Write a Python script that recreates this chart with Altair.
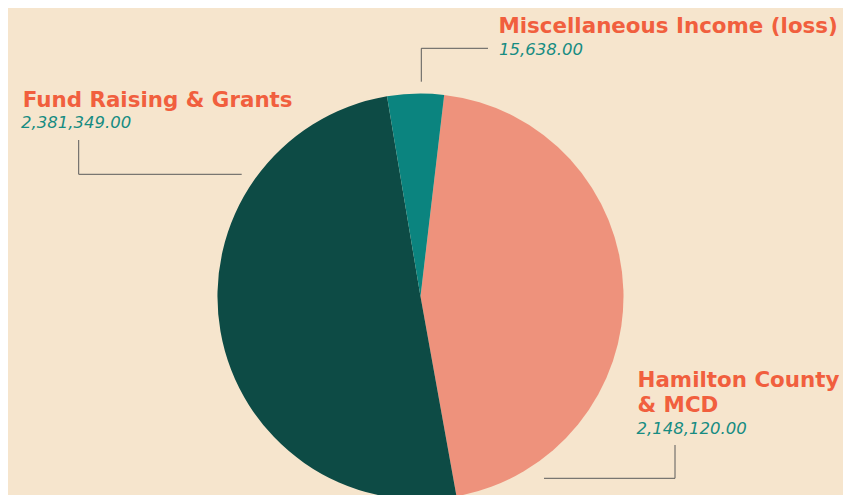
import altair as alt
import pandas as pd

# ---- data ----
categories = ["Hamilton County & MCD", "Fund Raising & Grants", "Miscellaneous Income (loss)"]
reported_values = [2148120.00, 2381349.00, 15638.00]
# slice shares as drawn in the picture (percent of the circle)
slice_share = [45.3, 50.2, 4.5]
slice_colors = ["#EE927C", "#0D4B45", "#0B847F"]

label_lines = ["Hamilton County\n& MCD", "Fund Raising & Grants", "Miscellaneous Income (loss)"]
value_labels = ["2,148,120.00", "2,381,349.00", "15,638.00"]

# ---- layout (chart pixel space) ----
W, H = 835, 487
CX, CY, R = 412.5, 288.5, 203
START = 0.117  # radians, clockwise from 12 o'clock

title_x = [629.5, 14.7, 490.5]
title_y = [378.7, 98.7, 25.3]
value_x = [628.5, 13, 491]
value_y = [426, 120.3, 47]

# leader lines: segments (x, y) -> (x2, y2)
seg_x = [536, 667, 70.7, 70.7, 413.3, 413.3]
seg_y = [470.3, 470.3, 132, 166.3, 73.7, 40.3]
seg_x2 = [667, 667, 70.7, 233.7, 413.3, 480]
seg_y2 = [470.3, 437, 166.3, 166.3, 40.3, 40.3]

pie_df = pd.DataFrame({"category": categories, "share": slice_share,
                       "order": [0, 1, 2]})
lab_df = pd.DataFrame({"label": label_lines, "tx": title_x, "ty": title_y})
val_df = pd.DataFrame({"value": value_labels, "vx": value_x, "vy": value_y})
seg_df = pd.DataFrame({"x": seg_x, "y": seg_y, "x2": seg_x2, "y2": seg_y2})

xs = alt.Scale(domain=[0, W], range=[0, W])
ys = alt.Scale(domain=[0, H], range=[0, H])

pie = alt.Chart(pie_df).mark_arc(radius=R, stroke=None).encode(
    theta=alt.Theta("share:Q", stack=True,
                    scale=alt.Scale(range=[START, START + 6.283185307])),
    order=alt.Order("order:Q"),
    color=alt.Color("category:N", legend=None,
                    scale=alt.Scale(domain=categories, range=slice_colors)),
    x=alt.value(CX), y=alt.value(CY),
)

segs = alt.Chart(seg_df).mark_rule(color="#5a5a5a", strokeWidth=1).encode(
    x=alt.X("x:Q", scale=xs, axis=None),
    y=alt.Y("y:Q", scale=ys, axis=None),
    x2="x2:Q", y2="y2:Q",
)

titles = alt.Chart(lab_df).mark_text(
    align="left", baseline="alphabetic", font="DejaVu Sans", fontWeight="bold",
    fontSize=21.4, color="#F15F3E", lineBreak="\n", lineHeight=25,
).encode(x=alt.X("tx:Q", scale=xs, axis=None),
         y=alt.Y("ty:Q", scale=ys, axis=None), text="label:N")

values = alt.Chart(val_df).mark_text(
    align="left", baseline="alphabetic", font="DejaVu Sans", fontStyle="italic",
    fontSize=16.5, color="#178C82",
).encode(x=alt.X("vx:Q", scale=xs, axis=None),
         y=alt.Y("vy:Q", scale=ys, axis=None), text="value:N")

chart = alt.layer(pie, segs, titles, values).properties(
    width=W, height=H, autosize=alt.AutoSizeParams(type="none"),
    padding=0, background="#F6E5CD",
).configure_view(stroke=None, fill="#F6E5CD")

chart.save("out.html", embed_options={"renderer": "svg", "actions": False})
